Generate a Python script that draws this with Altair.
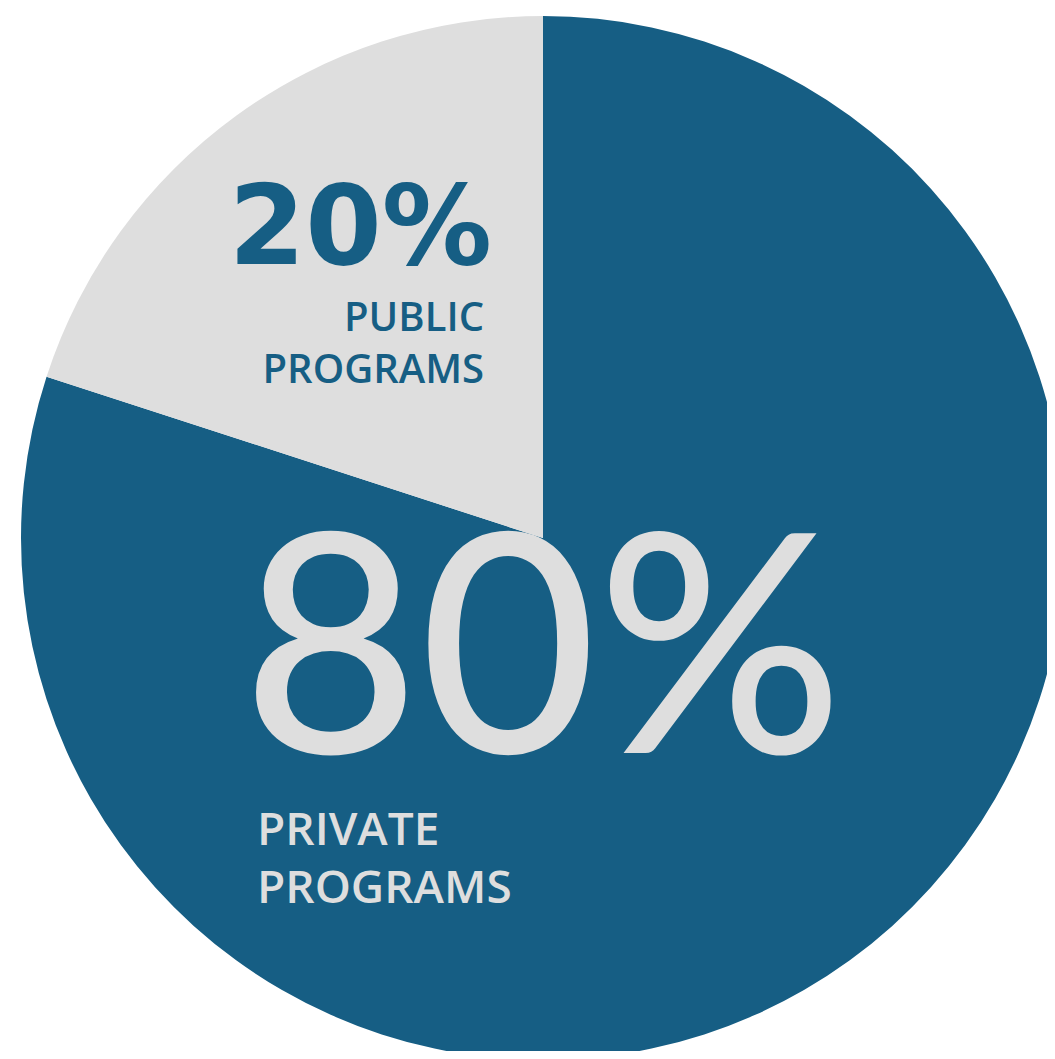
import altair as alt
import pandas as pd

categories = ["Private", "Public"]
values = [80, 20]
label_lines = [["PRIVATE", "PROGRAMS"], ["PUBLIC", "PROGRAMS"]]

BLUE = "#165E84"
GRAY = "#DEDEDE"

df = pd.DataFrame({"category": categories, "value": values})
df["pct"] = [f"{v}%" for v in values]

base = alt.Chart(df)

pie = base.mark_arc(outerRadius=522, stroke=None).encode(
    theta=alt.Theta("value:Q", stack=True),
    color=alt.Color("category:N", scale=alt.Scale(domain=categories, range=[BLUE, GRAY]), legend=None),
    order=alt.Order("category:N", sort="ascending"),
    x=alt.value(535),
    y=alt.value(530),
)

priv = df[df.category == "Private"]
pub = df[df.category == "Public"]

pct80 = alt.Chart(priv).mark_text(
    font="Lato", fontSize=306, fontWeight=500, align="left", baseline="alphabetic", color=GRAY
).encode(text="pct:N", x=alt.value(234), y=alt.value(745))

pct20 = alt.Chart(pub).mark_text(
    font="DejaVu Sans", fontSize=110, fontWeight="bold", align="right", baseline="alphabetic", color=BLUE
).encode(text="pct:N", x=alt.value(484), y=alt.value(256))

lab_priv1 = alt.Chart(priv).mark_text(
    font="Open Sans", fontSize=46, fontWeight=600, align="left", baseline="alphabetic", color=GRAY
).encode(text=alt.value(label_lines[0][0]), x=alt.value(249), y=alt.value(837))
lab_priv2 = alt.Chart(priv).mark_text(
    font="Open Sans", fontSize=46, fontWeight=600, align="left", baseline="alphabetic", color=GRAY
).encode(text=alt.value(label_lines[0][1]), x=alt.value(249), y=alt.value(895))

lab_pub1 = alt.Chart(pub).mark_text(
    font="Open Sans", fontSize=40, fontWeight=600, align="right", baseline="alphabetic", color=BLUE
).encode(text=alt.value(label_lines[1][0]), x=alt.value(476), y=alt.value(323))
lab_pub2 = alt.Chart(pub).mark_text(
    font="Open Sans", fontSize=40, fontWeight=600, align="right", baseline="alphabetic", color=BLUE
).encode(text=alt.value(label_lines[1][1]), x=alt.value(476), y=alt.value(375))

chart = alt.layer(pie, pct80, pct20, lab_priv1, lab_priv2, lab_pub1, lab_pub2).properties(
    width=1039, height=1043, padding=0, autosize=alt.AutoSizeParams(type="none"), background="white"
).configure_view(stroke=None)

chart.save("out.html", embed_options={"renderer": "svg", "actions": False})
